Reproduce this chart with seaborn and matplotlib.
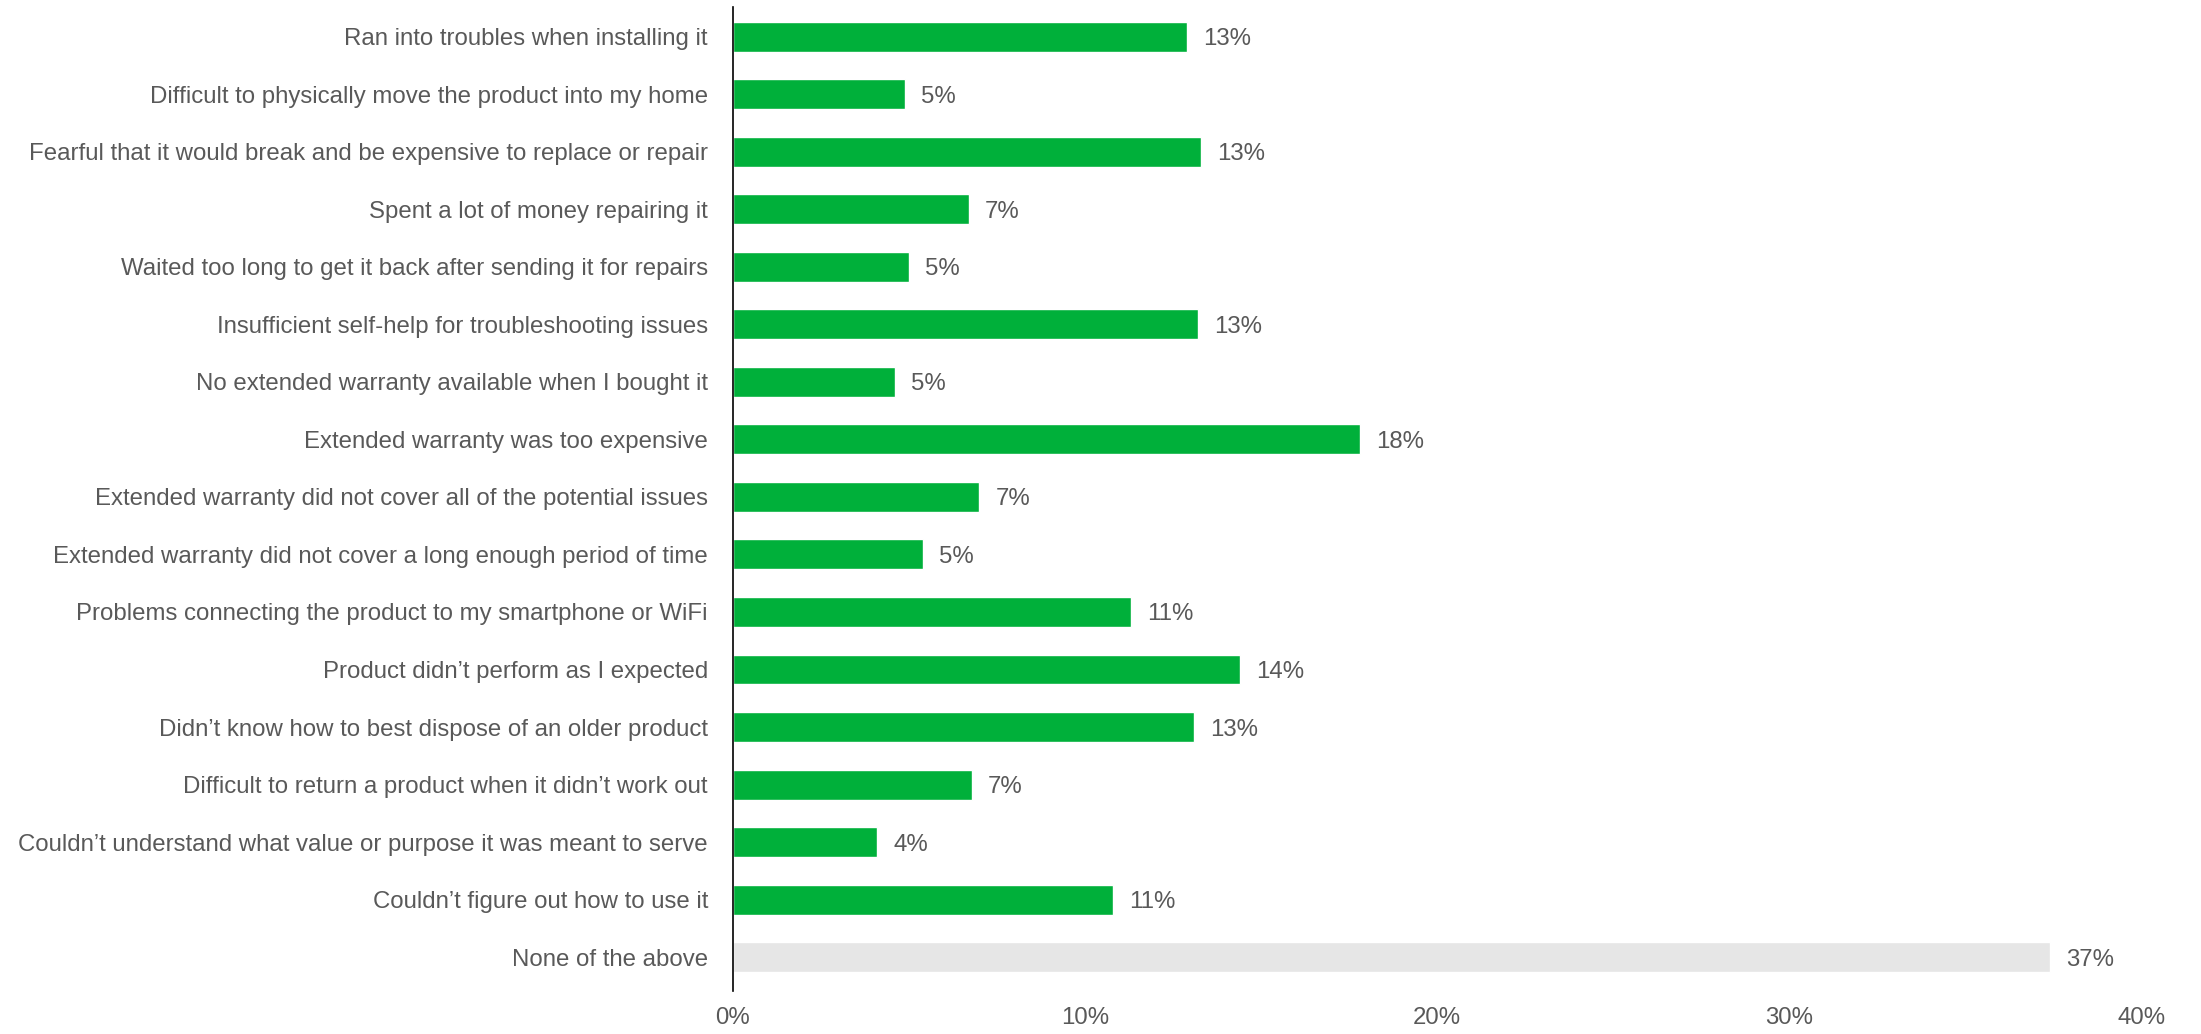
import pandas as pd
import matplotlib.pyplot as plt
import seaborn as sns

# Survey answers, top to bottom
reasons = [
    'Ran into troubles when installing it',
    'Difficult to physically move the product into my home',
    'Fearful that it would break and be expensive to replace or repair',
    'Spent a lot of money repairing it',
    'Waited too long to get it back after sending it for repairs',
    'Insufficient self-help for troubleshooting issues',
    'No extended warranty available when I bought it',
    'Extended warranty was too expensive',
    'Extended warranty did not cover all of the potential issues',
    'Extended warranty did not cover a long enough period of time',
    'Problems connecting the product to my smartphone or WiFi',
    'Product didn\u2019t perform as I expected',
    'Didn\u2019t know how to best dispose of an older product',
    'Difficult to return a product when it didn\u2019t work out',
    'Couldn\u2019t understand what value or purpose it was meant to serve',
    'Couldn\u2019t figure out how to use it',
    'None of the above',
]
shares = [12.9, 4.9, 13.3, 6.7, 5.0, 13.2, 4.6, 17.8, 7.0, 5.4,
          11.3, 14.4, 13.1, 6.8, 4.1, 10.8, 37.4]
groups = ['issue'] * 16 + ['none']
xticks = [0, 10, 20, 30, 40]

data = pd.DataFrame({'reason': reasons, 'share': shares, 'group': groups})

sns.set_style('white')
plt.rcParams['font.family'] = ['Liberation Sans Narrow', 'Liberation Sans', 'DejaVu Sans']
text_color = '#595959'

fig = plt.figure(figsize=(22.01, 10.34), dpi=100)
ax = fig.add_axes([0.333, 0.042, 0.640, 0.951])

sns.barplot(data=data, x='share', y='reason', hue='group',
            palette={'issue': '#00B03A', 'none': '#E6E6E6'},
            saturation=1, width=0.52, dodge=False, legend=False, ax=ax)

for i, v in enumerate(shares):
    ax.text(v + 0.45, i, f'{round(v)}%', va='center_baseline', ha='left',
            fontsize=17.3, color=text_color)

ax.set_xlim(0, 40)
ax.set_ylim(len(reasons) - 0.42, -0.51)
ax.set_xticks(xticks)
ax.set_xticklabels([f'{t}%' for t in xticks])
ax.set_xlabel('')
ax.set_ylabel('')
ax.tick_params(axis='both', length=0, labelsize=17.3, labelcolor=text_color)
ax.tick_params(axis='y', pad=18)
ax.tick_params(axis='x', pad=12)

for side in ['top', 'right', 'bottom']:
    ax.spines[side].set_visible(False)
ax.spines['left'].set_color('black')
ax.spines['left'].set_linewidth(1.2)

plt.savefig('out.png', dpi=100)
plt.close()
